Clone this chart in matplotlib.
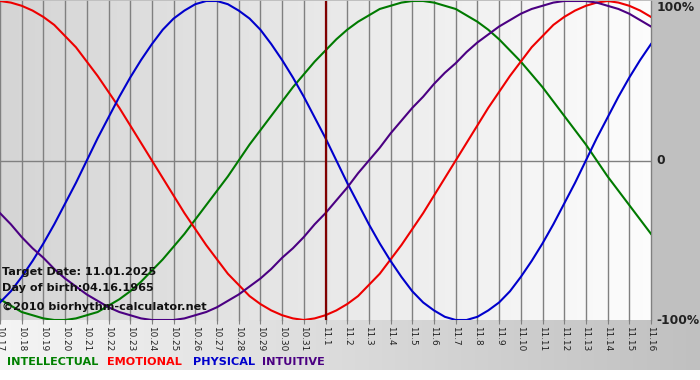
import numpy as np
import matplotlib
matplotlib.use("Agg")
import matplotlib.pyplot as plt

# days shown: 10.17 .. 11.16
dates = ["10.17", "10.18", "10.19", "10.20", "10.21", "10.22", "10.23", "10.24",
         "10.25", "10.26", "10.27", "10.28", "10.29", "10.30", "10.31",
         "11.1", "11.2", "11.3", "11.4", "11.5", "11.6", "11.7", "11.8", "11.9",
         "11.10", "11.11", "11.12", "11.13", "11.14", "11.15", "11.16"]

# values read every half day, from 10.17 to 11.16
intellectual = [-0.87, -0.91, -0.95, -0.97, -0.99, -1.00, -1.00, -0.99, -0.97, -0.95,
                -0.91, -0.87, -0.82, -0.76, -0.69, -0.62, -0.54, -0.46, -0.37, -0.28,
                -0.19, -0.10, 0.00, 0.10, 0.19, 0.28, 0.37, 0.46, 0.54, 0.62,
                0.69, 0.76, 0.82, 0.87, 0.91, 0.95, 0.97, 0.99, 1.00, 1.00,
                0.99, 0.97, 0.95, 0.91, 0.87, 0.82, 0.76, 0.69, 0.62, 0.54,
                0.46, 0.37, 0.28, 0.19, 0.10, 0.00, -0.10, -0.19, -0.28, -0.37, -0.46]
emotional = [1.00, 0.99, 0.97, 0.94, 0.90, 0.85, 0.78, 0.71, 0.62, 0.53,
             0.43, 0.33, 0.22, 0.11, 0.00, -0.11, -0.22, -0.33, -0.43, -0.53,
             -0.62, -0.71, -0.78, -0.85, -0.90, -0.94, -0.97, -0.99, -1.00, -0.99,
             -0.97, -0.94, -0.90, -0.85, -0.78, -0.71, -0.62, -0.53, -0.43, -0.33,
             -0.22, -0.11, 0.00, 0.11, 0.22, 0.33, 0.43, 0.53, 0.62, 0.71,
             0.78, 0.85, 0.90, 0.94, 0.97, 0.99, 1.00, 0.99, 0.97, 0.94, 0.90]
physical = [-0.89, -0.82, -0.73, -0.63, -0.52, -0.40, -0.27, -0.14, 0.00, 0.14,
            0.27, 0.40, 0.52, 0.63, 0.73, 0.82, 0.89, 0.94, 0.98, 1.00,
            1.00, 0.98, 0.94, 0.89, 0.82, 0.73, 0.63, 0.52, 0.40, 0.27,
            0.14, 0.00, -0.14, -0.27, -0.40, -0.52, -0.63, -0.73, -0.82, -0.89,
            -0.94, -0.98, -1.00, -1.00, -0.98, -0.94, -0.89, -0.82, -0.73, -0.63,
            -0.52, -0.40, -0.27, -0.14, 0.00, 0.14, 0.27, 0.40, 0.52, 0.63, 0.73]
intuitive = [-0.33, -0.40, -0.48, -0.55, -0.61, -0.68, -0.74, -0.79, -0.84, -0.88,
             -0.92, -0.95, -0.97, -0.99, -1.00, -1.00, -1.00, -0.99, -0.97, -0.95,
             -0.92, -0.88, -0.84, -0.79, -0.74, -0.68, -0.61, -0.55, -0.48, -0.40,
             -0.33, -0.25, -0.17, -0.08, 0.00, 0.08, 0.17, 0.25, 0.33, 0.40,
             0.48, 0.55, 0.61, 0.68, 0.74, 0.79, 0.84, 0.88, 0.92, 0.95,
             0.97, 0.99, 1.00, 1.00, 1.00, 0.99, 0.97, 0.95, 0.92, 0.88, 0.84]

target_index = 15  # 11.1

W, H = 700, 380
fig = plt.figure(figsize=(W / 100, H / 100), dpi=100)

# background of the whole picture
bg = fig.add_axes([0, 0, 1, 1])
bg.set_axis_off()
img = np.ones((H, W, 3))
xs = np.linspace(0, 1, W)
img[:, :, :] = 0.753
strip = 0.96 - (0.96 - 0.753) * xs
img[320:370, :, :] = strip[None, :, None]
img[370:, :, :] = 1.0
bg.imshow(img, aspect="auto", extent=[0, 1, 0, 1], origin="upper")

ax_left, ax_bottom = 0, 60 / H
ax_w, ax_h = 651 / W, 319 / H
ax = fig.add_axes([ax_left, ax_bottom, ax_w, ax_h])
n = len(dates)
x = np.arange(n)
xh = np.arange(len(physical)) / 2

grad = np.linspace(0.835, 0.99, 256)
ax.imshow(np.dstack([grad, grad, grad]), aspect="auto",
          extent=[0, n - 1, -1, 1], zorder=0)

for i in x:
    ax.axvline(i, color="#808080", lw=1.0, zorder=1, clip_on=False)
ax.axhline(0, color="#808080", lw=1.0, zorder=1)

ax.plot(xh, intellectual, color="#007a00", lw=1.5, zorder=3)
ax.plot(xh, emotional, color="#ee0000", lw=1.5, zorder=3)
ax.plot(xh, physical, color="#0000cc", lw=1.5, zorder=3)
ax.plot(xh, intuitive, color="#4b0082", lw=1.5, zorder=3)
ax.axvline(target_index, color="#800000", lw=1.6, zorder=4)

ax.set_xlim(0, n - 1)
ax.set_ylim(-1, 1)
ax.set_xticks(x)
ax.set_xticklabels(dates, rotation=-90, fontsize=6.4, color="#222222")
ax.tick_params(axis="x", length=3, color="#808080", pad=1)
ax.set_yticks([])
for s in ax.spines.values():
    s.set_visible(False)

ax.text(n - 1 + 0.25, 1.0, "100%", fontsize=8.8, fontweight="bold", va="top",
        ha="left", color="#222222", clip_on=False)
ax.text(n - 1 + 0.25, 0.0, "0", fontsize=8.8, fontweight="bold", va="center",
        ha="left", color="#222222", clip_on=False)
ax.text(n - 1 + 0.25, -1.0, "-100%", fontsize=8.8, fontweight="bold", va="center",
        ha="left", color="#222222", clip_on=False)

info = [("Target Date: 11.01.2025", 272), ("Day of birth:04.16.1965", 288),
        ("\u00a92010 biorhythm-calculator.net", 307)]
for txt, py in info:
    fig.text(2 / W, 1 - py / H, txt, fontsize=8.1, fontweight="bold",
             va="center", ha="left", color="#111111")

legend = [("INTELLECTUAL", "#008000", 7), ("EMOTIONAL", "#ff0000", 107),
          ("PHYSICAL", "#0000cc", 193), ("INTUITIVE", "#4b0082", 262)]
for name, col, px in legend:
    fig.text(px / W, 1 - 362 / H, name, fontsize=8.1, fontweight="bold",
             va="center", ha="left", color=col)

fig.savefig("out.png", dpi=100)
